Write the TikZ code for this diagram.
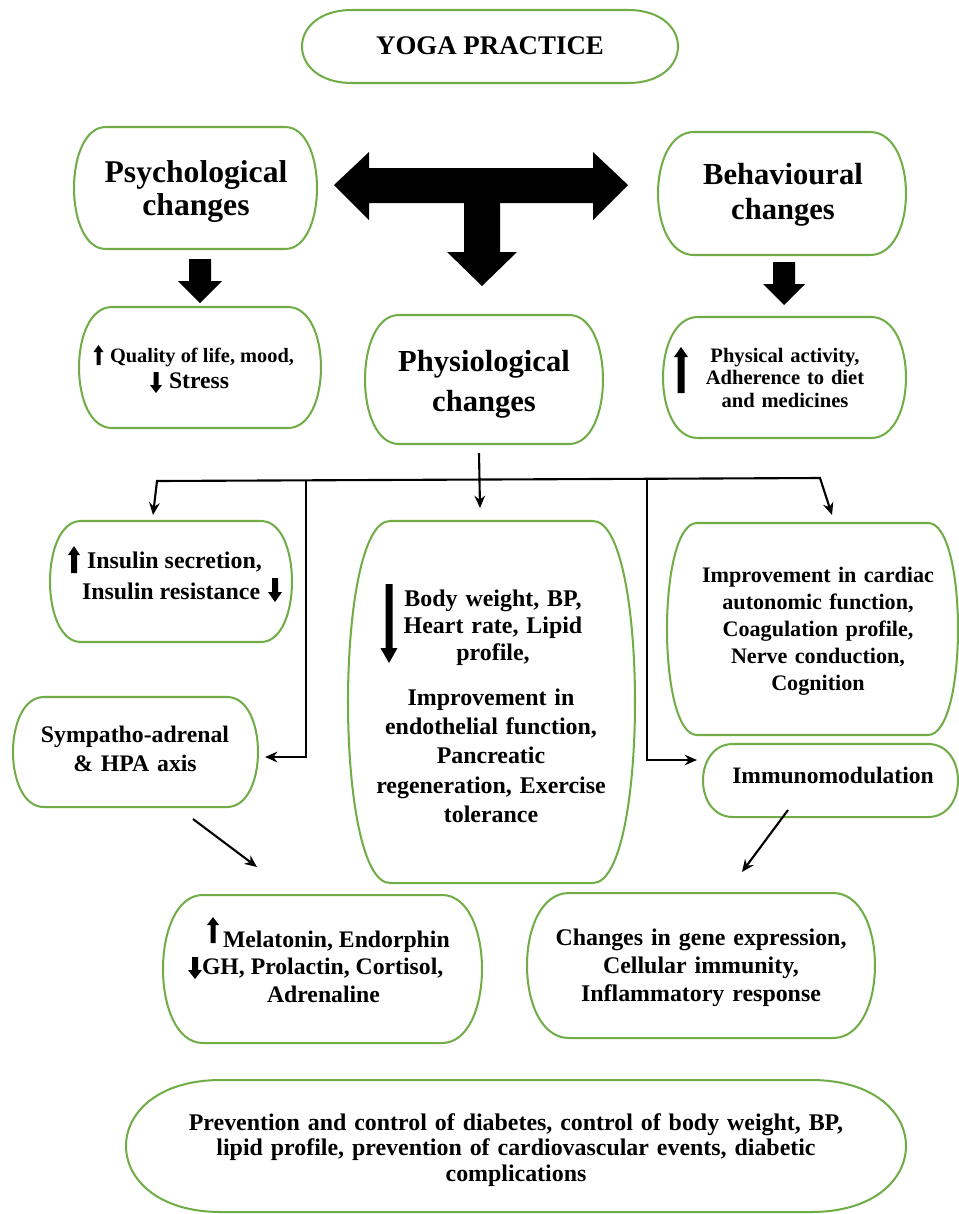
\documentclass[tikz,border=0pt]{standalone}
\usepackage{fontspec}
\setmainfont{Liberation Serif}
\usetikzlibrary{calc,arrows.meta}
\definecolor{gborder}{RGB}{112,173,71}
\newcommand\fs[2]{\fontsize{#1}{#2}\selectfont\bfseries}
% rounded box with bulging sides: name, x0, y0, x1, y1, inset
\newcommand\gbox[6]{%
  \node[boxshape, minimum width={(#4-#2)*0.02cm}, minimum height={(#5-#3)*0.02cm}] (#1) at ({(#2+#4)/2},{(#3+#5)/2}) {};
  \draw[gline] ($(#1.north west)+(#6,0)$) -- ($(#1.north east)+(-#6,0)$)
    .. controls +({4*#6/3},0) and +({4*#6/3},0) .. ($(#1.south east)+(-#6,0)$)
    -- ($(#1.south west)+(#6,0)$)
    .. controls +({-4*#6/3},0) and +({-4*#6/3},0) .. ($(#1.north west)+(#6,0)$) -- cycle;}
% vertical block arrow: x, tail y, head base y, tip y, shaft width, head width
\newcommand\varr[6]{\fill ({#1-#5/2},#2) -- ({#1-#5/2},#3) -- ({#1-#6/2},#3) -- (#1,#4) -- ({#1+#6/2},#3) -- ({#1+#5/2},#3) -- ({#1+#5/2},#2) -- cycle;}
\tikzset{
  boxshape/.style={rectangle, inner sep=0pt, outer sep=0pt, draw=none},
  gline/.style={draw=gborder, line width=1.15pt},
  txt/.style={inner sep=0pt, outer sep=0pt, align=center},
  blk/.style={txt, text width=9cm},
  conn/.style={line width=1.2pt, -{Stealth[length=7pt,width=6pt]}},
  conn2/.style={line width=1.2pt, {Stealth[length=7pt,width=6pt]}-{Stealth[length=7pt,width=6pt]}},
}
\begin{document}
\begin{tikzpicture}[x=0.02cm, y=-0.02cm]
\useasboundingbox[fill=white] (0,0) rectangle (959,1214);

% boxes
\gbox{yoga}{302}{10}{678}{83}{50}
\gbox{psy}{74}{127}{317}{249}{32}
\gbox{beh}{658}{132}{906}{255}{36}
\gbox{qual}{79}{307}{321}{428}{33}
\gbox{phys}{365}{315}{603}{444}{34}
\gbox{pact}{663}{317}{906}{438}{35}
\gbox{ins}{50}{521}{292}{642}{31}
\gbox{sym}{13}{697}{258}{807}{31}
\gbox{mid}{348}{521}{635}{883}{42}
\gbox{car}{667}{523}{958}{735}{30}
\gbox{imm}{703}{744}{958}{817}{30}
\gbox{mel}{163}{895}{482}{1043}{40}
\gbox{gene}{527}{893}{875}{1038}{42}
\gbox{bot}{126}{1080}{906}{1212}{95}

% texts
\node[txt, anchor=base, font=\fs{15.3}{18}] (tyoga) at (490,54) {YOGA PRACTICE};
\node[blk, anchor=base, font=\fs{18}{19.3}] (tpsy) at (196,182) {Psychological\\changes};
\node[blk, anchor=base, font=\fs{17.4}{20.4}] (tbeh) at (783,184) {Behavioural\\changes};
\node[blk, anchor=base, font=\fs{17.4}{23.2}] (tphys) at (484,371) {Physiological\\changes};
\node[txt, anchor=base west, font=\fs{11.6}{13}] (tq1) at (110,362) {Quality of life, mood,};
\node[txt, anchor=base west, font=\fs{13.5}{15}] (tq2) at (169,388) {Stress};
\node[blk, anchor=base, font=\fs{11.7}{13}] (tpact) at (785,362) {Physical activity,\\Adherence to diet\\and medicines};
\node[txt, anchor=base west, font=\fs{13.6}{15}] (ti1) at (87,568) {Insulin secretion,};
\node[txt, anchor=base west, font=\fs{13.6}{15}] (ti2) at (82,599) {Insulin resistance};
\node[blk, anchor=base, font=\fs{13.5}{17}] (tsym) at (135,742) {Sympatho-adrenal\\\& HPA axis};
\node[blk, anchor=base, font=\fs{13.6}{15.6}] (tmid1) at (493,606) {Body weight, BP,\\Heart rate, Lipid\\profile,};
\node[blk, anchor=base, font=\fs{13.6}{16.7}] (tmid2) at (491,705) {Improvement in\\endothelial function,\\Pancreatic\\regeneration, Exercise\\tolerance};
\node[blk, anchor=base, font=\fs{12.6}{15.5}] (tcar) at (818,582) {Improvement in cardiac\\autonomic function,\\Coagulation profile,\\Nerve conduction,\\Cognition};
\node[txt, anchor=base, font=\fs{13.4}{15}] (timm) at (833,783) {Immunomodulation};
\node[txt, anchor=base west, font=\fs{13.5}{15}] (tm1) at (223,947) {Melatonin, Endorphin};
\node[txt, anchor=base west, font=\fs{13.5}{15}] (tm2) at (202,974) {GH, Prolactin, Cortisol,};
\node[txt, anchor=base, font=\fs{13.5}{15}] (tm3) at (323.5,1002) {Adrenaline};
\node[blk, anchor=base, font=\fs{13.6}{16.2}] (tgene) at (701,945) {Changes in gene expression,\\Cellular immunity,\\Inflammatory response};
\node[txt, text width=16cm, anchor=base, font=\fs{13.6}{14.7}] (tbot) at (516,1130) {Prevention and control of diabetes, control of body weight, BP,\\lipid profile, prevention of cardiovascular events, diabetic\\complications};

% big T arrow
\fill (334,185) -- (369,152) -- (369,168) -- (593,168) -- (593,152) -- (628,185)
  -- (593,220) -- (593,203) -- (500,203) -- (500,252) -- (517,252) -- (482,286)
  -- (447,252) -- (464,252) -- (464,203) -- (369,203) -- (369,220) -- cycle;
% small block arrows
\varr{200}{259}{281}{303}{22}{44}
\varr{784}{262}{284}{305}{22}{42}
% text arrows
\varr{98.5}{365}{352}{345}{4}{10}
\varr{156}{372}{385}{393}{5}{12}
\varr{681}{393}{357}{347}{7}{14}
\varr{74}{573}{555}{546}{6}{12}
\varr{275}{578}{592}{602}{6}{14}
\varr{389}{584}{648}{663}{7}{17}
\varr{213}{943}{925}{917}{5}{12}
\varr{195}{957}{970}{979}{6}{14}

% connectors
\coordinate (pstem) at (479,453);
\coordinate (tmidc) at (480,508);
\coordinate (hl) at (157,481);
\coordinate (tins) at (153,515);
\coordinate (hr) at (820,478);
\coordinate (tcar) at (832,515);
\coordinate (vl) at (306,480);
\coordinate (vlb) at (306,757);
\coordinate (tsy) at (265,757);
\coordinate (vr) at (647,479);
\coordinate (vrb) at (647,760);
\coordinate (tim) at (697,760);
\coordinate (s1) at (193,819);
\coordinate (s2) at (257,867);
\coordinate (i1) at (788,810);
\coordinate (i2) at (742,872);
\draw[conn] (pstem) -- (tmidc);
\draw[conn2] (tins) -- (hl) -- (hr) -- (tcar);
\draw[conn] (vl) -- (vlb) -- (tsy);
\draw[conn] (vr) -- (vrb) -- (tim);
\draw[conn] (s1) -- (s2);
\draw[conn] (i1) -- (i2);
\end{tikzpicture}
\end{document}
